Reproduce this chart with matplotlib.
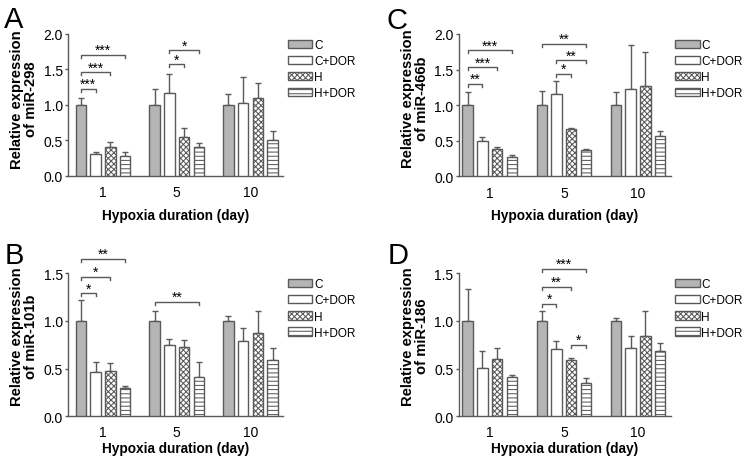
import matplotlib
matplotlib.use("Agg")
import matplotlib.pyplot as plt
import numpy as np

plt.rcParams['font.family'] = ['Liberation Sans', 'DejaVu Sans']
plt.rcParams['hatch.linewidth'] = 0.75

days = ["1", "5", "10"]
groups = ["C", "C+DOR", "H", "H+DOR"]
xlabel = "Hypoxia duration (day)"

# Panel A: miR-298
a_mean = {"C": [1.0, 1.0, 1.0], "C+DOR": [0.31, 1.17, 1.02],
          "H": [0.41, 0.54, 1.09], "H+DOR": [0.28, 0.40, 0.50]}
a_err = {"C": [0.10, 0.22, 0.15], "C+DOR": [0.02, 0.27, 0.37],
         "H": [0.06, 0.13, 0.22], "H+DOR": [0.06, 0.06, 0.13]}
a_sig = [(0, 0, 1, 1.23, "***"), (0, 0, 2, 1.46, "***"), (0, 0, 3, 1.71, "***"),
         (1, 1, 2, 1.57, "*"), (1, 1, 3, 1.77, "*")]

# Panel B: miR-101b
b_mean = {"C": [1.0, 1.0, 1.0], "C+DOR": [0.46, 0.75, 0.79],
          "H": [0.47, 0.73, 0.87], "H+DOR": [0.30, 0.41, 0.59]}
b_err = {"C": [0.22, 0.105, 0.05], "C+DOR": [0.11, 0.06, 0.14],
         "H": [0.09, 0.075, 0.235], "H+DOR": [0.02, 0.16, 0.13]}
b_sig = [(0, 0, 1, 1.29, "*"), (0, 0, 2, 1.465, "*"), (0, 0, 3, 1.65, "**"),
         (1, 0, 3, 1.20, "**")]

# Panel C: miR-466b
c_mean = {"C": [1.0, 1.0, 1.0], "C+DOR": [0.50, 1.15, 1.22],
          "H": [0.38, 0.67, 1.27], "H+DOR": [0.27, 0.37, 0.56]}
c_err = {"C": [0.18, 0.20, 0.19], "C+DOR": [0.05, 0.19, 0.63],
         "H": [0.025, 0.008, 0.48], "H+DOR": [0.03, 0.02, 0.075]}
c_sig = [(0, 0, 1, 1.30, "**"), (0, 0, 2, 1.53, "***"), (0, 0, 3, 1.77, "***"),
         (1, 1, 2, 1.44, "*"), (1, 1, 3, 1.63, "**"), (1, 0, 3, 1.86, "**")]

# Panel D: miR-186
d_mean = {"C": [1.0, 1.0, 1.0], "C+DOR": [0.51, 0.71, 0.72],
          "H": [0.60, 0.59, 0.84], "H+DOR": [0.41, 0.35, 0.69]}
d_err = {"C": [0.34, 0.105, 0.03], "C+DOR": [0.18, 0.075, 0.12],
         "H": [0.12, 0.02, 0.26], "H+DOR": [0.02, 0.056, 0.08]}
d_sig = [(1, 0, 1, 1.18, "*"), (1, 0, 2, 1.36, "**"), (1, 0, 3, 1.545, "***"),
         (1, 2, 3, 0.75, "*")]

EDGE = "#5a5a5a"
styles = {"C": dict(facecolor="#b5b5b5", hatch=None),
          "C+DOR": dict(facecolor="white", hatch=None),
          "H": dict(facecolor="white", hatch="xxxxxx"),
          "H+DOR": dict(facecolor="white", hatch="----")}

W, H = 747, 464
fig = plt.figure(figsize=(W / 100, H / 100), dpi=100)

step = 0.2
bw = 0.14
offsets = [-1.5 * step, -0.5 * step, 0.5 * step, 1.5 * step]


def panel(rect, xlim, ymax, yticks, mean, err, sig, mir, letter, letter_xy,
          xpad, xlabelpad, ylab_y):
    ax = fig.add_axes(rect)
    x = np.arange(len(days))
    handles = []
    for k, g in enumerate(groups):
        st = styles[g]
        b = ax.bar(x + offsets[k], mean[g], bw, facecolor=st["facecolor"],
                   edgecolor=EDGE, hatch=st["hatch"], linewidth=1.0, zorder=3)
        handles.append(b)
        ax.errorbar(x + offsets[k], mean[g], yerr=[np.zeros(3), err[g]],
                    fmt="none", ecolor=EDGE, elinewidth=1.0, capsize=2.3,
                    capthick=1.0, zorder=2)
    ax.set_xlim(*xlim)
    ax.set_ylim(0, ymax)
    ax.set_yticks(yticks)
    ax.set_yticklabels([f"{t:.1f}" for t in yticks])
    ax.set_xticks(x)
    ax.set_xticklabels(days)
    for s in ["top", "right"]:
        ax.spines[s].set_visible(False)
    for s in ["left", "bottom"]:
        ax.spines[s].set_color(EDGE)
        ax.spines[s].set_linewidth(1.0)
    ax.tick_params(axis="y", length=2.5, width=1.0, color=EDGE, pad=1.5,
                   labelsize=10)
    ax.tick_params(axis="x", length=0, pad=xpad, labelsize=10)
    ax.set_xlabel(xlabel, fontsize=9.8, fontweight="bold", labelpad=xlabelpad)
    ax.set_ylabel("Relative expression\nof " + mir, fontsize=10.6,
                  fontweight="bold", linespacing=1.05)
    ax.yaxis.set_label_coords(-0.14, ylab_y)
    # brackets
    hpx = rect[3] * H
    drop = 3.0 * ymax / hpx
    for (d, i, j, y, s) in sig:
        x1 = d + offsets[i]
        x2 = d + offsets[j]
        ax.plot([x1, x1, x2, x2], [y - drop, y, y, y - drop], color=EDGE,
                lw=1.0, clip_on=False, zorder=4)
        ax.annotate(s, xy=((x1 + x2) / 2, y), xytext=(0, -1.5),
                    textcoords="offset points", ha="center", va="bottom",
                    fontsize=10, annotation_clip=False)
    ax.legend(handles, groups, loc="upper left", bbox_to_anchor=(1.02, 0.965),
              frameon=False, fontsize=8.5, handlelength=2.1, handleheight=0.7,
              handletextpad=0.15, labelspacing=0.35, borderaxespad=0,
              borderpad=0)
    fig.text(letter_xy[0] / W, 1 - letter_xy[1] / H, letter, fontsize=21,
             ha="left", va="baseline")
    return ax


# pixel geometry
def rect_px(left, right, top, bottom):
    return [left / W, 1 - bottom / H, (right - left) / W, (bottom - top) / H]


panel(rect_px(68.3, 283.3, 35, 176.7), (-0.47, 2.445), 2.0,
      [0.0, 0.5, 1.0, 1.5, 2.0], a_mean, a_err, a_sig, "miR-298", "A", (4, 28),
      7, 6, 0.545)
panel(rect_px(68.3, 283.3, 274.3, 417.3), (-0.47, 2.445), 1.5,
      [0.0, 0.5, 1.0, 1.5], b_mean, b_err, b_sig, "miR-101b", "B", (5, 264),
      6, 1.5, 0.565)
panel(rect_px(459.0, 670.5, 35, 177.3), (-0.417, 2.44), 2.0,
      [0.0, 0.5, 1.0, 1.5, 2.0], c_mean, c_err, c_sig, "miR-466b", "C", (387, 29),
      7, 6, 0.55)
panel(rect_px(459.0, 670.5, 274.3, 417.3), (-0.417, 2.44), 1.5,
      [0.0, 0.5, 1.0, 1.5], d_mean, d_err, d_sig, "miR-186", "D", (388, 264),
      6, 1.5, 0.565)

fig.savefig("out.png", dpi=100)
